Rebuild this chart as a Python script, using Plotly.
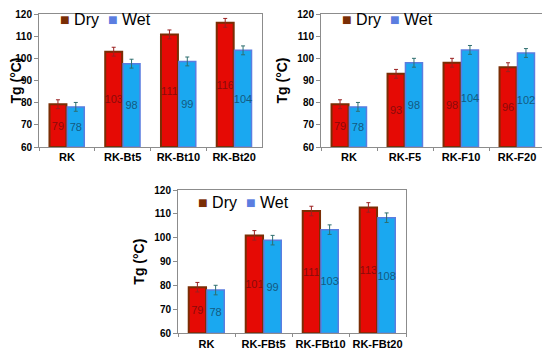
import plotly.graph_objects as go

# ---------------- data ----------------
cats1 = ["RK", "RK-Bt5", "RK-Bt10", "RK-Bt20"]
dry1 = [79.3, 103.0, 110.8, 116.0]
wet1 = [78.1, 97.6, 98.6, 103.6]
dry1_err = [2.0, 2.0, 2.0, 2.0]
wet1_err = [2.0, 2.0, 2.0, 2.0]

cats2 = ["RK", "RK-F5", "RK-F10", "RK-F20"]
dry2 = [79.3, 93.0, 98.0, 96.0]
wet2 = [78.1, 98.0, 103.8, 102.4]
dry2_err = [2.0, 2.0, 2.0, 2.0]
wet2_err = [2.0, 2.0, 2.0, 2.0]

cats3 = ["RK", "RK-FBt5", "RK-FBt10", "RK-FBt20"]
dry3 = [79.3, 101.0, 111.2, 112.7]
wet3 = [78.1, 99.0, 103.4, 108.4]
dry3_err = [2.0, 2.0, 2.0, 2.0]
wet3_err = [2.0, 2.0, 2.0, 2.0]

y_min, y_max = 60, 120
y_ticks = [60, 70, 80, 90, 100, 110, 120]
y_title = "Tg (°C)"

# ---------------- style ----------------
FONT = "Liberation Sans, Arial, sans-serif"
DRY_FILL = "#E50A05"
DRY_LINE = "#7A2E05"
WET_FILL = "#1AA8F0"
WET_LINE = "#5B7DE0"
DRY_TXT = "#8A0A0A"
WET_TXT = "#145A80"

fig = go.Figure()

panels = [
    (cats1, dry1, wet1, dry1_err, wet1_err, "x", "y"),
    (cats2, dry2, wet2, dry2_err, wet2_err, "x2", "y2"),
    (cats3, dry3, wet3, dry3_err, wet3_err, "x3", "y3"),
]

# bars start at the axis floor (60) so the inside labels sit mid-bar
for cats, dry, wet, de, we, xa, ya in panels:
    fig.add_trace(go.Bar(
        x=cats, y=[v - y_min for v in dry], base=y_min, name="Dry",
        xaxis=xa, yaxis=ya, customdata=dry,
        marker=dict(color=DRY_FILL, line=dict(color=DRY_LINE, width=2)),
        error_y=dict(type="data", array=de, color="#9A2020", thickness=1, width=2),
        text=[f"{v:.0f}" for v in dry], textposition="inside",
        insidetextanchor="middle", textangle=0, constraintext="none",
        textfont=dict(family=FONT, size=11, color=DRY_TXT),
        hovertemplate="%{x}: %{customdata}<extra>Dry</extra>",
        showlegend=False,
    ))
    fig.add_trace(go.Bar(
        x=cats, y=[v - y_min for v in wet], base=y_min, name="Wet",
        xaxis=xa, yaxis=ya, customdata=wet,
        marker=dict(color=WET_FILL, line=dict(color=WET_LINE, width=1.5)),
        error_y=dict(type="data", array=we, color="#2F6F6F", thickness=1, width=2),
        text=[f"{v:.0f}" for v in wet], textposition="inside",
        insidetextanchor="middle", textangle=0, constraintext="none",
        textfont=dict(family=FONT, size=11, color=WET_TXT),
        hovertemplate="%{x}: %{customdata}<extra>Wet</extra>",
        showlegend=False,
    ))

W, H = 550, 352
OFF = 8  # page body margin offset

def clamp(v):
    return max(0.0, min(1.0, v))

def xd(a, b):
    return [clamp((a - OFF) / W), clamp((b - OFF) / W)]

def yd(top, bottom):
    return [clamp(1 - (bottom - OFF) / H), clamp(1 - (top - OFF) / H)]

domains = {
    "1": (xd(39, 262), yd(14, 147)),
    "2": (xd(321, 545), yd(14, 147)),
    "3": (xd(178, 406), yd(190, 333.3)),
}

layout = dict(
    width=W, height=H,
    margin=dict(l=0, r=0, t=0, b=0, autoexpand=False),
    paper_bgcolor="white", plot_bgcolor="white",
    barmode="group", bargap=0.36, bargroupgap=0.05,
    font=dict(family=FONT, color="black"),
    showlegend=False,
    uniformtext=dict(minsize=11, mode="show"),
)

for k, (xdom, ydom) in domains.items():
    sx = "" if k == "1" else k
    layout[f"xaxis{sx}"] = dict(
        domain=xdom, anchor=f"y{sx}", showgrid=False, automargin=False,
        showline=True, linecolor="#8C8C8C", linewidth=1, mirror=True,
        ticks="outside", tickson="boundaries", ticklen=3, tickcolor="#8C8C8C",
        tickangle=0,
        tickfont=dict(family=FONT, size=11, color="black", weight="bold"),
        fixedrange=True,
    )
    layout[f"yaxis{sx}"] = dict(
        domain=ydom, anchor=f"x{sx}", range=[y_min, y_max], automargin=False,
        tickvals=y_ticks, showgrid=False, zeroline=False,
        showline=True, linecolor="#8C8C8C", linewidth=1, mirror=True,
        ticks="outside", ticklen=4, tickcolor="#8C8C8C",
        tickfont=dict(family=FONT, size=10, color="black", weight="bold"),
        title=dict(text=y_title, standoff=6,
                   font=dict(family=FONT, size=14, color="black", weight="bold")),
        fixedrange=True,
    )

fig.update_layout(**layout)

legend_text = ("<span style='color:%s'>■</span> Dry&nbsp;&nbsp;<span style='color:%s'>■</span> Wet"
               % (DRY_LINE, WET_LINE))
for px, py in [(58, 20), (340, 20), (196, 202)]:
    fig.add_annotation(
        x=(px - OFF) / W, y=1 - (py - OFF) / H, xref="paper", yref="paper",
        xanchor="left", yanchor="middle", showarrow=False,
        text=legend_text, font=dict(family=FONT, size=16, color="black"),
    )

fig.write_html("out.html")
